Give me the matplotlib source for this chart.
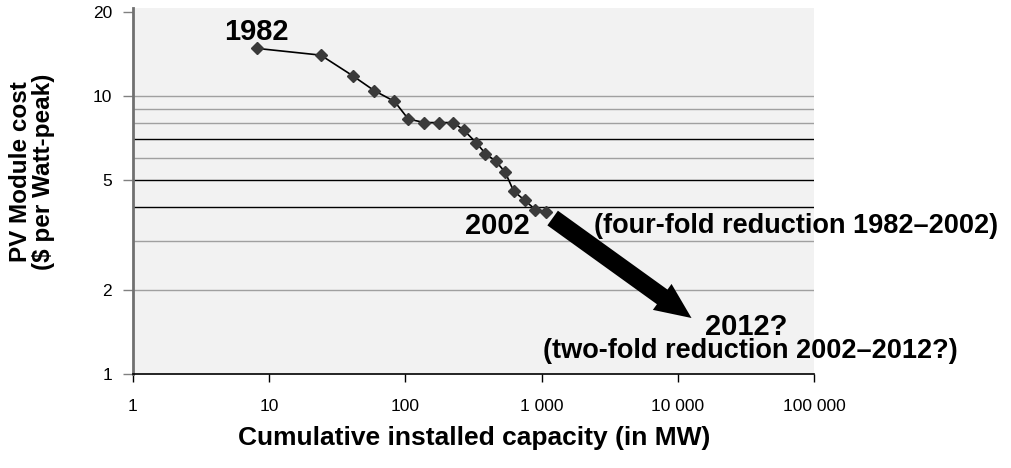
import numpy as np
import matplotlib
matplotlib.use("Agg")
import matplotlib.pyplot as plt
from matplotlib.patches import FancyArrowPatch
from matplotlib.ticker import FixedLocator, FixedFormatter, NullLocator

plt.rcParams['font.family'] = ['Liberation Sans', 'DejaVu Sans']

# cumulative installed capacity (MW) and module cost ($/Wp), 1982 -> 2002
capacity = [8.1, 23.9, 41.1, 59.3, 83.2, 105, 138, 176, 224, 268,
            331, 387, 461, 541, 624, 751, 902, 1084]
cost = [14.85, 14.04, 11.83, 10.45, 9.57, 8.27, 8.03, 8.03, 8.03, 7.55,
        6.80, 6.21, 5.83, 5.32, 4.55, 4.22, 3.90, 3.84]

x_ticks = [1, 10, 100, 1000, 10000, 100000]
x_labels = ["1", "10", "100", "1 000", "10 000", "100 000"]
y_ticks = [1, 2, 5, 10, 20]
y_labels = ["1", "2", "5", "10", "20"]

# horizontal gridlines (black ones came out darker in the original)
grid_gray = [2, 3, 6, 8, 9, 10]
grid_black = [4, 5, 7]

# projection arrow 2002 -> 2012
arrow_start = (1206, 3.64)
arrow_end = (12620, 1.59)

fig = plt.figure(figsize=(10.12, 4.68), dpi=100)
ax = fig.add_axes([0.1314, 0.2009, 0.6729, 0.7814])
ax.set_facecolor('#f2f2f2')

ax.set_xscale('log')
ax.set_yscale('log')
ax.set_xlim(1, 100000)
ax.set_ylim(1, 20.7)

for g in grid_gray:
    ax.axhline(g, color='#a0a0a0', lw=1.0, zorder=1)
for g in grid_black:
    ax.axhline(g, color='black', lw=1.0, zorder=1)

ax.plot(capacity, cost, color='black', lw=1.2, zorder=3)
ax.plot(capacity, cost, ls='none', marker='D', ms=6.5, color='#3a3a3a', zorder=4)

arr = FancyArrowPatch(arrow_start, arrow_end,
                      arrowstyle='simple,head_length=26,head_width=23,tail_width=13',
                      mutation_scale=1, shrinkA=0, shrinkB=0,
                      color='black', lw=0, zorder=5)
ax.add_patch(arr)

ax.xaxis.set_major_locator(FixedLocator(x_ticks))
ax.xaxis.set_major_formatter(FixedFormatter(x_labels))
ax.xaxis.set_minor_locator(NullLocator())
ax.yaxis.set_major_locator(FixedLocator(y_ticks))
ax.yaxis.set_major_formatter(FixedFormatter(y_labels))
ax.yaxis.set_minor_locator(NullLocator())

ax.tick_params(axis='x', direction='out', length=6, width=1, color='black',
               labelsize=12.5, pad=12)
ax.tick_params(axis='y', direction='out', length=7, width=1, color='#808080',
               labelsize=12.5, pad=8)

for s in ['top', 'right']:
    ax.spines[s].set_visible(False)
ax.spines['bottom'].set_color('black')
ax.spines['bottom'].set_linewidth(1.2)
ax.spines['left'].set_color('#707070')
ax.spines['left'].set_linewidth(2)

fig.text(474 / 1012, 1 - 438 / 468, "Cumulative installed capacity (in MW)",
         ha='center', va='center', fontsize=19, fontweight='bold')
fig.text(32 / 1012, 1 - 172 / 468, "PV Module cost\n($ per Watt-peak)",
         ha='center', va='center', rotation=90, fontsize=17.5,
         fontweight='bold', linespacing=1.05)

big = dict(fontsize=21, fontweight='bold')
ax.text(8.1, 17.06, "1982", ha='center', va='center', **big)
ax.text(472, 3.41, "2002", ha='center', va='center', **big)
ax.text(2436, 3.41, "(four-fold reduction 1982\u20132002)", ha='left',
        va='center', fontsize=19.5, fontweight='bold')
ax.text(31990, 1.48, "2012?", ha='center', va='center', **big)
ax.text(34200, 1.205, "(two-fold reduction 2002\u20132012?)", ha='center',
        va='center', fontsize=19.5, fontweight='bold')

fig.savefig("out.png", dpi=100)
